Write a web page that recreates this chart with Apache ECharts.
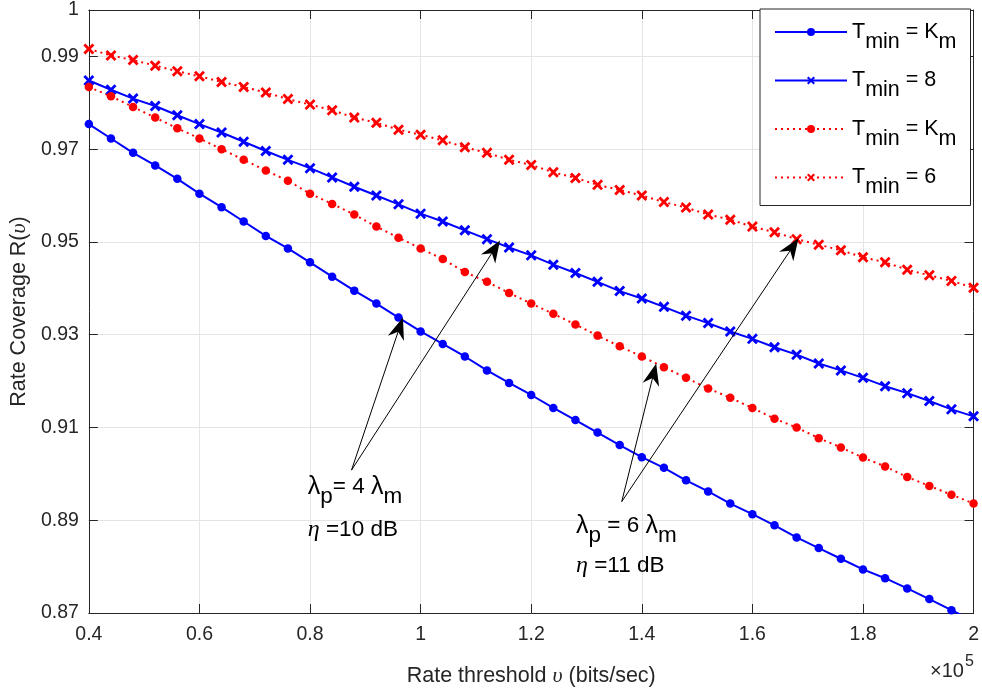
<!DOCTYPE html>
<html>
<head>
<meta charset="utf-8">
<script src="https://cdn.jsdelivr.net/npm/echarts@6/dist/echarts.min.js"></script>
<style>html,body{margin:0;padding:0;background:#fff}#c{width:982px;height:696px}</style>
</head>
<body>
<div id="c"></div>
<script>
// Rate threshold (x 10^5 bits/sec)
const xThreshold = [0.40,0.44,0.48,0.52,0.56,0.60,0.64,0.68,0.72,0.76,0.80,0.84,0.88,0.92,0.96,1.00,1.04,1.08,1.12,1.16,1.20,1.24,1.28,1.32,1.36,1.40,1.44,1.48,1.52,1.56,1.60,1.64,1.68,1.72,1.76,1.80,1.84,1.88,1.92,1.96,2.00];
// lambda_p = 4 lambda_m, eta = 10 dB
const rateKm4 = [0.9754,0.9723,0.9692,0.9665,0.9636,0.9604,0.9575,0.9544,0.9513,0.9486,0.9456,0.9425,0.9395,0.9367,0.9337,0.9307,0.9280,0.9253,0.9223,0.9196,0.9170,0.9142,0.9116,0.9089,0.9062,0.9036,0.9013,0.8986,0.8962,0.8936,0.8913,0.8889,0.8863,0.8840,0.8817,0.8794,0.8775,0.8753,0.8730,0.8706,0.8683];
const rate8 = [0.9848,0.9828,0.9809,0.9793,0.9773,0.9754,0.9736,0.9716,0.9696,0.9677,0.9659,0.9639,0.9619,0.9600,0.9581,0.9561,0.9544,0.9525,0.9506,0.9488,0.9471,0.9451,0.9433,0.9414,0.9394,0.9378,0.9360,0.9341,0.9325,0.9307,0.9291,0.9273,0.9257,0.9238,0.9223,0.9207,0.9189,0.9174,0.9157,0.9139,0.9124];
// lambda_p = 6 lambda_m, eta = 11 dB
const rateKm6 = [0.9834,0.9814,0.9791,0.9768,0.9745,0.9723,0.9700,0.9677,0.9654,0.9632,0.9604,0.9582,0.9559,0.9533,0.9509,0.9486,0.9463,0.9435,0.9414,0.9390,0.9367,0.9345,0.9322,0.9298,0.9275,0.9253,0.9230,0.9207,0.9184,0.9164,0.9142,0.9119,0.9100,0.9077,0.9057,0.9035,0.9016,0.8993,0.8974,0.8955,0.8936];
const rate6 = [0.9916,0.9902,0.9892,0.9880,0.9868,0.9857,0.9845,0.9834,0.9822,0.9808,0.9796,0.9784,0.9768,0.9757,0.9742,0.9731,0.9719,0.9704,0.9692,0.9677,0.9666,0.9650,0.9638,0.9623,0.9612,0.9600,0.9586,0.9574,0.9559,0.9548,0.9533,0.9521,0.9506,0.9494,0.9482,0.9467,0.9456,0.9440,0.9428,0.9416,0.9401];

const seriesNames = ['Tmin = Km (4λm)', 'Tmin = 8 (4λm)', 'Tmin = Km (6λm)', 'Tmin = 6 (6λm)'];
const legendLabels = ['{t|T}{s|min}{t| = K}{s|m}', '{t|T}{s|min}{t| = 8}', '{t|T}{s|min}{t| = K}{s|m}', '{t|T}{s|min}{t| = 6}'];

// annotation anchors (data coordinates)
const note4Text = [0.796, 0.8972];
const note4Eta = [0.796, 0.8879];
const note4Tail = [0.875, 0.9008];
const note4Tips = [[0.968, 0.9337], [1.1436, 0.9503]];
const note6Text = [1.281, 0.8888];
const note6Eta = [1.281, 0.8801];
const note6Tail = [1.3637, 0.8940];
const note6Tips = [[1.426, 0.9238], [1.6834, 0.9508]];

const FONT = "'Liberation Sans', Arial, Helvetica, sans-serif";
const SERIF = "'Liberation Serif', 'DejaVu Serif', serif";
const AX = '#262626';
const CROSS = 'path://M0,1.8L1.8,0L5,3.2L8.2,0L10,1.8L6.8,5L10,8.2L8.2,10L5,6.8L1.8,10L0,8.2L3.2,5Z';

const chart = echarts.init(document.getElementById('c'), null, {renderer: 'canvas'});

function mk(name, vals, color, symbol, size, dashed) {
  return {
    name: name, type: 'line', xAxisIndex: 0, yAxisIndex: 0,
    data: xThreshold.map((x, i) => [x, vals[i]]),
    symbol: symbol, symbolSize: size, showSymbol: true,
    itemStyle: {color: color},
    lineStyle: {color: color, width: 2, type: dashed ? [2, 4] : 'solid'},
    clip: true, animation: false, silent: true
  };
}

const xAxisBase = {
  type: 'value', min: 0.4, max: 2, interval: 0.2,
  axisLine: {show: true, lineStyle: {color: AX, width: 1}},
  axisTick: {show: true, inside: true, length: 9, lineStyle: {color: AX}},
  splitLine: {show: false}
};
const yAxisBase = {
  type: 'value', min: 0.87, max: 1, interval: 0.02,
  axisLine: {show: true, lineStyle: {color: AX, width: 1}},
  axisTick: {show: true, inside: true, length: 9, lineStyle: {color: AX}},
  splitLine: {show: false}
};

chart.setOption({
  animation: false,
  backgroundColor: '#fff',
  textStyle: {fontFamily: FONT},
  grid: {left: 88, right: 5, top: 5, bottom: 83, containLabel: false},
  xAxis: [
    Object.assign({}, xAxisBase, {
      position: 'bottom',
      axisLabel: {color: AX, fontSize: 19.5, fontFamily: FONT, margin: 12},
      splitLine: {show: true, lineStyle: {color: '#e4e4e4', width: 1}},
      name: '{n|Rate threshold }{i|υ}{n| (bits/sec)}',
      nameLocation: 'middle', nameGap: 52,
      nameTextStyle: {color: AX, fontSize: 21.5, fontFamily: FONT,
        rich: {n: {fontSize: 21.5, fontFamily: FONT, color: AX}, i: {fontSize: 22, fontFamily: SERIF, fontStyle: 'italic', color: AX}}}
    }),
    Object.assign({}, xAxisBase, {position: 'top', axisLabel: {show: false}})
  ],
  yAxis: [
    Object.assign({}, yAxisBase, {
      position: 'left',
      axisLabel: {color: AX, fontSize: 19.5, fontFamily: FONT, margin: 10},
      splitLine: {show: true, lineStyle: {color: '#e4e4e4', width: 1}},
      name: '{n|Rate Coverage R(}{i|υ}{n|)}',
      nameLocation: 'middle', nameGap: 55, nameRotate: 90,
      nameTextStyle: {color: AX, fontSize: 21.5, fontFamily: FONT,
        rich: {n: {fontSize: 21.5, fontFamily: FONT, color: AX}, i: {fontSize: 22, fontFamily: SERIF, fontStyle: 'italic', color: AX}}}
    }),
    Object.assign({}, yAxisBase, {position: 'right', axisLabel: {show: false}})
  ],
  legend: {
    show: true, orient: 'vertical', left: 760, top: 9,
    padding: [12, 14, 7, 14], itemGap: 16.5, itemWidth: 72, itemHeight: 10,
    backgroundColor: '#fff', borderColor: AX, borderWidth: 1, borderRadius: 0,
    data: seriesNames,
    formatter: function (name) { return legendLabels[seriesNames.indexOf(name)]; },
    textStyle: {color: '#000', fontSize: 21.5, fontFamily: FONT,
      rich: {t: {fontSize: 21.5, fontFamily: FONT, color: '#000'}, s: {fontSize: 21.5, fontFamily: FONT, color: '#000', padding: [20, 0, 0, 0]}}},
    selectedMode: false
  },
  series: [
    mk(seriesNames[0], rateKm4, '#0000ff', 'circle', 8.5, false),
    mk(seriesNames[1], rate8, '#0000ff', CROSS, 11, false),
    mk(seriesNames[2], rateKm6, '#ff0000', 'circle', 8.5, true),
    mk(seriesNames[3], rate6, '#ff0000', CROSS, 11, true)
  ]
});

function toPx(p) { return chart.convertToPixel({xAxisIndex: 0, yAxisIndex: 0}, p); }
function arrow(tail, tip) {
  const a = toPx(tail), b = toPx(tip);
  const dx = b[0] - a[0], dy = b[1] - a[1], len = Math.hypot(dx, dy);
  const ux = dx / len, uy = dy / len, nx = -uy, ny = ux;
  const L = 22, W = 8.5, N = 15;
  const bk = [b[0] - ux * L, b[1] - uy * L];
  const nt = [b[0] - ux * N, b[1] - uy * N];
  return [
    {type: 'line', z: 100, silent: true, shape: {x1: a[0], y1: a[1], x2: nt[0], y2: nt[1]}, style: {stroke: '#000', lineWidth: 1}},
    {type: 'polygon', z: 100, silent: true, shape: {points: [b, [bk[0] + nx * W, bk[1] + ny * W], nt, [bk[0] - nx * W, bk[1] - ny * W]]}, style: {fill: '#000'}}
  ];
}
const noteRich = {
  t: {fontSize: 22.5, fontFamily: FONT, fill: '#000'},
  l: {fontSize: 25, fontFamily: FONT, fill: '#000'},
  s: {fontSize: 22.5, fontFamily: FONT, fill: '#000', padding: [20, 0, 0, 0]},
  e: {fontSize: 24, fontFamily: SERIF, fontStyle: 'italic', fill: '#000'}
};
function note(pos, text) {
  const p = toPx(pos);
  return {type: 'text', z: 100, silent: true, x: p[0], y: p[1],
    style: {text: text, rich: noteRich, fill: '#000', fontSize: 22.5, fontFamily: FONT, align: 'left', verticalAlign: 'middle'}};
}
let g = [];
note4Tips.forEach(t => { g = g.concat(arrow(note4Tail, t)); });
note6Tips.forEach(t => { g = g.concat(arrow(note6Tail, t)); });
g.push(note(note4Text, '{l|λ}{s|p}{t|= 4 }{l|λ}{s|m}'));
g.push(note(note4Eta, '{e|η}{t| =10 dB}'));
g.push(note(note6Text, '{l|λ}{s|p}{t| = 6 }{l|λ}{s|m}'));
g.push(note(note6Eta, '{e|η}{t| =11 dB}'));
g.push({type: 'text', z: 100, silent: true, x: 930, y: 671,
  style: {text: '{t|×10}{p|5}', fill: AX, align: 'left', verticalAlign: 'middle',
    rich: {t: {fontSize: 20, fontFamily: FONT, fill: AX}, p: {fontSize: 16, fontFamily: FONT, fill: AX, padding: [0, 0, 18, 1]}}}});
chart.setOption({graphic: g});
</script>
</body>
</html>
